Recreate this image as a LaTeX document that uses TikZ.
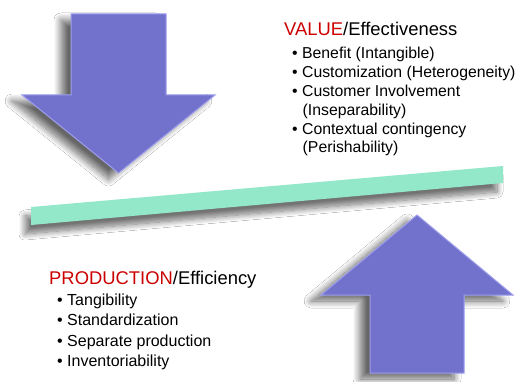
\documentclass[tikz,border=0pt]{standalone}
\usepackage{fontspec}
\setmainfont{Liberation Sans}
\usetikzlibrary{shadows.blur}

\definecolor{arrowfill}{RGB}{114,114,204}
\definecolor{arrowedge}{RGB}{158,158,238}
\definecolor{barfill}{RGB}{147,232,201}
\definecolor{headred}{RGB}{204,0,0}

\tikzset{
  bigarrow/.style={fill=arrowfill, draw=arrowedge, line width=1pt, line join=miter,
    blur shadow={shadow xshift=-10pt, shadow yshift=-6pt, shadow blur radius=7pt,
      shadow blur steps=12, shadow opacity=60}},
  balancebar/.style={fill=barfill, draw=none,
    blur shadow={shadow xshift=-6pt, shadow yshift=-9pt, shadow blur radius=6pt,
      shadow blur steps=12, shadow opacity=55}},
  heading/.style={inner sep=0pt, anchor=base west, font=\fontsize{18.4}{22}\selectfont},
  itemtop/.style={inner sep=0pt, anchor=base west, font=\fontsize{15.8}{19}\selectfont},
  itembot/.style={inner sep=0pt, anchor=base west, font=\fontsize{16}{19}\selectfont},
}

\begin{document}
\begin{tikzpicture}[x=1pt,y=-1pt]
  \useasboundingbox (0,0) rectangle (519,382);
  \fill[white] (0,0) rectangle (519,382);

  % downward arrow (value pressing down)
  \path[bigarrow] (71,14) -- (166,14) -- (166,95) -- (215,95) -- (118.5,173)
    -- (22,95) -- (71,95) -- cycle;

  % tilted balance bar
  \path[balancebar] (31,207) -- (503,166) -- (503,183) -- (31,225) -- cycle;

  % upward arrow (production pushing up)
  \path[bigarrow] (370,373) -- (464,373) -- (464,295) -- (513,295) -- (417,215)
    -- (321,295) -- (370,295) -- cycle;

  % value side
  \node[heading] (valT) at (284,36) {\textcolor{headred}{VALUE}/Effectiveness};
  \node[itemtop] (v1) at (292,59) {• Benefit (Intangible)};
  \node[itemtop] (v2) at (292,77.8) {• Customization (Heterogeneity)};
  \node[itemtop] (v3) at (292,96.6) {• Customer Involvement};
  \node[itemtop] (v3b) at (302.5,115.4) {(Inseparability)};
  \node[itemtop] (v4) at (292,134.2) {• Contextual contingency};
  \node[itemtop] (v4b) at (302.5,153) {(Perishability)};

  % production side
  \node[heading] (proT) at (49,284) {\textcolor{headred}{PRODUCTION}/Efficiency};
  \node[itembot] (p1) at (57,305) {• Tangibility};
  \node[itembot] (p2) at (57,325.5) {• Standardization};
  \node[itembot] (p3) at (57,346) {• Separate production};
  \node[itembot] (p4) at (57,366.5) {• Inventoriability};
\end{tikzpicture}
\end{document}
